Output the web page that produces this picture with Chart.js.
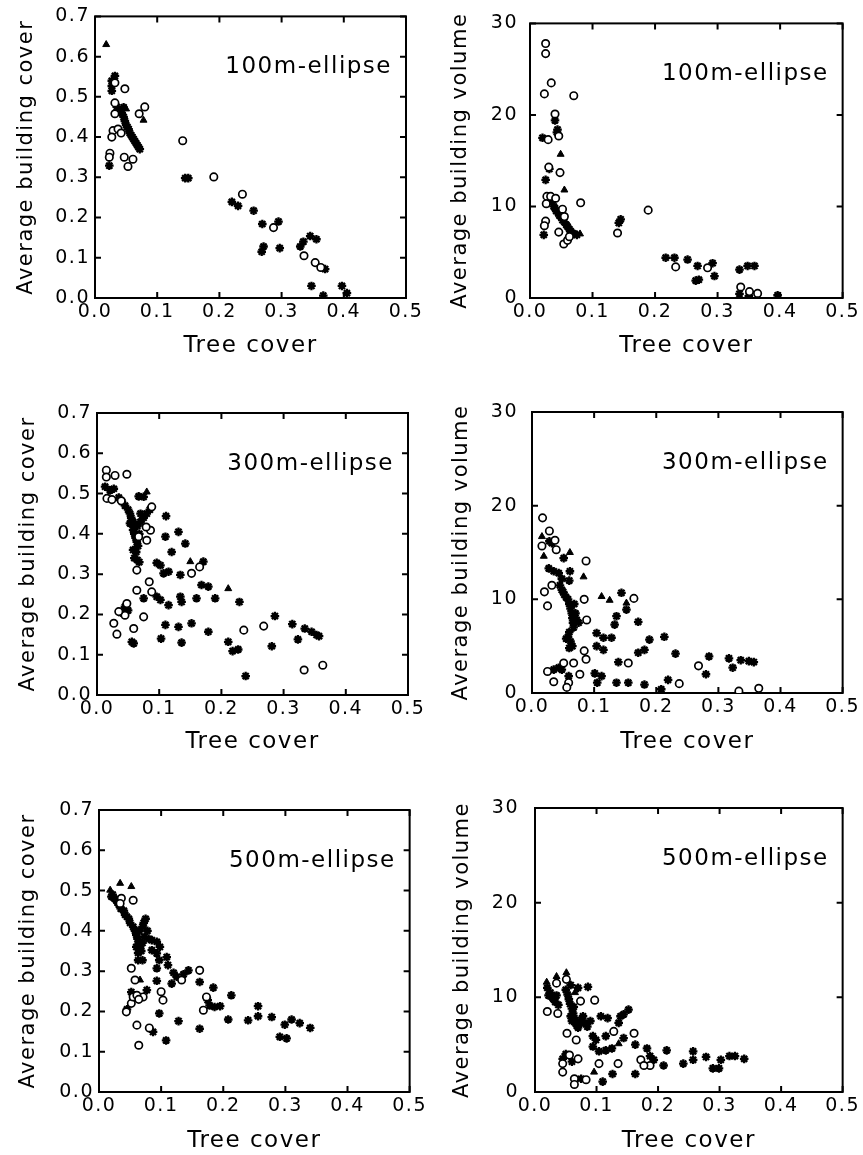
<!DOCTYPE html>
<html>
<head>
    <title>Tree cover vs building cover / volume</title>
    <script src="https://cdn.jsdelivr.net/npm/chart.js"></script>
    <style>
        body { margin: 0; background: #fff; }
        #wrap { position: relative; width: 863px; height: 1155px; }
        canvas { position: absolute; }
    </style>
</head>
<body>
<div id="wrap">
    <canvas id="c1"></canvas>
    <canvas id="c2"></canvas>
    <canvas id="c3"></canvas>
    <canvas id="c4"></canvas>
    <canvas id="c5"></canvas>
    <canvas id="c6"></canvas>
</div>

<script>
    // tick values
    var treeTicks = [0, 0.1, 0.2, 0.3, 0.4, 0.5];
    var coverTicks = [0, 0.1, 0.2, 0.3, 0.4, 0.5, 0.6, 0.7];
    var volumeTicks = [0, 10, 20, 30];

    // [tree cover, value] pairs
    // 100m ellipse - building cover
    var cover100Open = [[0.141,0.391],[0.191,0.301],[0.237,0.258],[0.287,0.175],[0.336,0.105],[0.354,0.088],[0.363,0.076],
        [0.048,0.52],[0.032,0.485],[0.080,0.475],[0.071,0.458],[0.032,0.458],[0.029,0.416],[0.037,0.42],[0.027,0.40],
        [0.042,0.41],[0.047,0.35],[0.061,0.345],[0.053,0.327],[0.024,0.36],[0.023,0.35],[0.032,0.535]];
    var cover100Tri = [[0.018,0.630],[0.078,0.442],[0.050,0.47]];
    var cover100Star = [[0.023,0.329],[0.027,0.54],[0.032,0.552],[0.027,0.515],[0.027,0.527],[0.046,0.474],
        [0.035,0.475],[0.040,0.465],[0.043,0.46],[0.046,0.45],[0.048,0.44],[0.050,0.43],[0.052,0.425],[0.054,0.42],
        [0.056,0.41],[0.058,0.405],[0.060,0.40],[0.062,0.395],[0.064,0.39],[0.066,0.385],[0.068,0.38],[0.070,0.375],[0.072,0.37],
        [0.145,0.298],[0.150,0.298],[0.220,0.239],[0.230,0.229],[0.255,0.217],[0.269,0.184],[0.271,0.128],[0.268,0.115],
        [0.295,0.19],[0.297,0.124],[0.335,0.14],[0.346,0.154],[0.356,0.146],[0.348,0.03],[0.367,0.006],[0.397,0.03],
        [0.405,0.012],[0.370,0.072],[0.330,0.128]];

    // 100m ellipse - building volume
    var volume100Open = [[0.025,27.8],[0.025,26.7],[0.034,23.5],[0.023,22.3],[0.070,22.1],[0.040,20.1],[0.046,17.7],[0.029,17.3],
        [0.048,13.7],[0.030,14.3],[0.027,11.1],[0.033,11.1],[0.026,10.3],[0.081,10.4],[0.025,8.4],[0.023,7.9],[0.052,9.7],
        [0.046,7.2],[0.054,5.9],[0.060,6.3],[0.140,7.1],[0.189,9.6],[0.233,3.4],[0.284,3.3],[0.337,1.2],[0.351,0.7],
        [0.364,0.5],[0.055,8.9],[0.041,10.9],[0.063,6.7]];
    var volume100Tri = [[0.049,15.7],[0.055,11.8],[0.080,7.0]];
    var volume100Star = [[0.020,17.5],[0.040,19.4],[0.044,18.4],[0.043,18.1],[0.031,14.1],[0.025,12.9],
        [0.035,10.5],[0.038,10.0],[0.040,9.8],[0.042,9.5],[0.045,9.3],[0.047,9.0],[0.050,8.8],[0.052,8.5],[0.055,8.3],
        [0.058,8.0],[0.060,7.8],[0.063,7.5],[0.065,7.3],[0.068,7.1],[0.070,7.0],[0.075,6.9],[0.022,6.9],[0.145,8.6],
        [0.142,8.2],[0.217,4.4],[0.231,4.4],[0.252,4.2],[0.268,3.5],[0.265,1.9],[0.270,2.0],[0.295,2.4],[0.292,3.8],
        [0.335,3.1],[0.348,3.5],[0.359,3.5],[0.335,0.46],[0.396,0.3],[0.350,0.2]];

    // 300m ellipse - building cover
    var cover300Open = [[0.015,0.558],[0.015,0.541],[0.029,0.545],[0.048,0.548],[0.016,0.488],[0.024,0.485],[0.039,0.482],
        [0.027,0.178],[0.032,0.151],[0.048,0.227],[0.045,0.198],[0.035,0.207],[0.059,0.165],[0.064,0.26],[0.075,0.194],
        [0.084,0.281],[0.088,0.256],[0.064,0.31],[0.152,0.302],[0.165,0.318],[0.236,0.161],[0.268,0.171],[0.333,0.062],
        [0.363,0.074],[0.067,0.393],[0.086,0.409],[0.079,0.417],[0.080,0.384],[0.088,0.467]];
    var cover300Tri = [[0.211,0.264],[0.080,0.504],[0.072,0.44],[0.150,0.331]];
    var cover300Star = [[0.013,0.517],[0.021,0.508],[0.027,0.512],[0.035,0.49],[0.040,0.48],[0.045,0.47],[0.050,0.46],
        [0.053,0.45],[0.055,0.44],[0.058,0.43],[0.060,0.42],[0.053,0.426],[0.058,0.41],[0.060,0.40],[0.062,0.39],[0.064,0.38],
        [0.066,0.37],[0.065,0.42],[0.070,0.43],[0.075,0.44],[0.080,0.45],[0.068,0.40],[0.063,0.355],[0.058,0.36],[0.060,0.34],
        [0.065,0.335],[0.068,0.33],[0.067,0.493],[0.075,0.492],[0.111,0.444],[0.110,0.393],[0.120,0.355],[0.131,0.405],
        [0.142,0.376],[0.096,0.328],[0.102,0.322],[0.115,0.306],[0.107,0.302],[0.134,0.298],[0.171,0.331],[0.168,0.273],
        [0.179,0.269],[0.160,0.24],[0.190,0.24],[0.229,0.231],[0.102,0.236],[0.096,0.244],[0.115,0.223],[0.134,0.244],
        [0.136,0.231],[0.110,0.174],[0.131,0.169],[0.152,0.178],[0.179,0.157],[0.103,0.140],[0.136,0.130],[0.056,0.132],
        [0.059,0.128],[0.211,0.132],[0.218,0.109],[0.227,0.113],[0.239,0.047],[0.281,0.121],[0.286,0.196],[0.314,0.176],
        [0.323,0.138],[0.334,0.165],[0.345,0.157],[0.353,0.149],[0.357,0.146],[0.045,0.219],[0.039,0.204],[0.050,0.21],
        [0.075,0.24],[0.070,0.45],[0.085,0.46]];

    // 300m ellipse - building volume
    var volume300Open = [[0.017,18.7],[0.028,17.3],[0.016,15.7],[0.037,16.3],[0.039,15.3],[0.032,11.5],[0.020,10.8],[0.025,9.3],
        [0.087,14.1],[0.084,10.0],[0.164,10.1],[0.088,7.8],[0.084,4.5],[0.087,3.6],[0.067,3.2],[0.025,2.3],[0.035,1.2],
        [0.059,1.1],[0.056,0.6],[0.077,2.0],[0.155,3.2],[0.237,1.0],[0.268,2.9],[0.333,0.2],[0.365,0.5],[0.051,3.2]];
    var volume300Tri = [[0.061,15.0],[0.083,12.4],[0.152,9.6],[0.112,10.3],[0.125,9.9],[0.016,16.7],[0.019,14.6]];
    var volume300Star = [[0.032,16.0],[0.028,16.2],[0.051,14.4],[0.061,13.0],[0.027,13.3],[0.035,13.0],[0.043,12.8],
        [0.048,12.2],[0.045,11.5],[0.048,11.0],[0.050,10.8],[0.052,10.5],[0.055,10.2],[0.058,10.0],[0.060,9.5],[0.062,9.0],
        [0.064,8.5],[0.065,8.0],[0.066,7.5],[0.067,7.0],[0.060,6.5],[0.058,6.0],[0.062,5.5],[0.065,5.0],[0.070,8.5],
        [0.072,7.8],[0.075,7.5],[0.068,9.5],[0.055,5.8],[0.060,4.8],[0.144,10.7],[0.136,8.2],[0.152,8.9],[0.171,7.6],
        [0.133,7.3],[0.104,6.4],[0.115,5.9],[0.128,5.9],[0.104,5.0],[0.115,4.6],[0.171,4.3],[0.181,4.6],[0.189,5.7],
        [0.213,6.0],[0.231,4.2],[0.285,3.9],[0.280,2.0],[0.317,3.7],[0.323,2.7],[0.336,3.5],[0.349,3.4],[0.357,3.3],
        [0.139,3.3],[0.101,2.1],[0.112,1.8],[0.105,1.1],[0.136,1.1],[0.155,1.1],[0.181,0.9],[0.219,1.4],[0.208,0.4],
        [0.035,2.5],[0.043,2.7],[0.048,2.5],[0.059,1.8],[0.060,12.0]];

    // 500m ellipse - building cover
    var cover500Open = [[0.036,0.481],[0.034,0.468],[0.055,0.476],[0.044,0.199],[0.052,0.220],[0.055,0.236],[0.061,0.166],
        [0.064,0.116],[0.081,0.159],[0.058,0.278],[0.071,0.236],[0.100,0.249],[0.103,0.228],[0.168,0.203],[0.162,0.302],
        [0.173,0.236],[0.052,0.307],[0.133,0.278],[0.061,0.240],[0.064,0.23]];
    var cover500Tri = [[0.034,0.518],[0.052,0.51],[0.018,0.501],[0.066,0.278]];
    var cover500Star = [[0.020,0.485],[0.025,0.48],[0.028,0.475],[0.030,0.47],[0.032,0.465],[0.022,0.49],[0.035,0.455],
        [0.040,0.45],[0.042,0.44],[0.045,0.435],[0.048,0.43],[0.050,0.42],[0.055,0.41],[0.058,0.40],[0.060,0.39],[0.062,0.38],
        [0.064,0.37],[0.066,0.36],[0.068,0.35],[0.065,0.40],[0.070,0.41],[0.072,0.42],[0.075,0.43],[0.060,0.36],[0.063,0.345],
        [0.070,0.37],[0.073,0.385],[0.078,0.40],[0.080,0.38],[0.085,0.377],[0.093,0.373],[0.098,0.36],[0.085,0.352],
        [0.093,0.344],[0.097,0.327],[0.109,0.335],[0.063,0.327],[0.070,0.327],[0.111,0.315],[0.093,0.307],[0.120,0.296],
        [0.125,0.286],[0.144,0.302],[0.136,0.292],[0.117,0.269],[0.093,0.276],[0.162,0.273],[0.184,0.259],[0.178,0.215],
        [0.186,0.211],[0.195,0.213],[0.213,0.240],[0.097,0.195],[0.077,0.253],[0.128,0.176],[0.108,0.128],[0.162,0.157],
        [0.087,0.149],[0.208,0.18],[0.240,0.178],[0.256,0.188],[0.256,0.213],[0.278,0.186],[0.291,0.137],[0.302,0.133],
        [0.299,0.167],[0.310,0.18],[0.323,0.171],[0.340,0.159],[0.052,0.248],[0.175,0.228],[0.045,0.205]];

    // 500m ellipse - building volume
    var volume500Open = [[0.020,8.5],[0.037,8.3],[0.035,11.5],[0.051,11.9],[0.074,9.6],[0.097,9.7],[0.052,6.2],[0.067,5.5],
        [0.045,3.0],[0.045,2.1],[0.056,3.9],[0.064,1.4],[0.064,0.8],[0.083,1.3],[0.104,3.0],[0.135,3.0],[0.161,6.2],
        [0.172,3.4],[0.187,2.8],[0.177,2.8],[0.128,6.4],[0.070,3.5]];
    var volume500Tri = [[0.019,11.6],[0.035,12.2],[0.051,12.6],[0.065,10.5],[0.096,2.1],[0.136,5.1]];
    var volume500Star = [[0.020,11.0],[0.025,10.5],[0.028,10.0],[0.030,9.8],[0.035,10.2],[0.033,9.5],[0.038,9.2],[0.022,10.2],
        [0.050,10.8],[0.053,10.3],[0.055,9.8],[0.057,9.3],[0.060,8.8],[0.062,8.3],[0.064,7.8],[0.066,7.3],[0.068,7.0],
        [0.070,6.8],[0.072,7.2],[0.075,7.6],[0.078,8.0],[0.060,7.5],[0.058,8.0],[0.070,11.0],[0.080,7.3],[0.085,6.9],
        [0.090,7.5],[0.058,11.3],[0.063,9.0],[0.086,11.1],[0.107,8.0],[0.118,7.8],[0.115,5.9],[0.094,5.9],[0.136,7.3],
        [0.152,8.7],[0.144,8.2],[0.139,8.0],[0.094,4.8],[0.104,4.3],[0.115,4.4],[0.125,4.6],[0.144,5.7],[0.110,1.1],
        [0.163,5.0],[0.163,1.9],[0.182,4.6],[0.187,3.8],[0.193,3.4],[0.209,2.8],[0.214,4.4],[0.241,3.0],[0.257,4.3],
        [0.257,3.4],[0.278,3.7],[0.289,2.5],[0.299,2.5],[0.302,3.4],[0.316,3.8],[0.325,3.8],[0.340,3.5],[0.126,1.9],
        [0.075,1.4],[0.099,5.5],[0.045,3.5],[0.050,4.0],[0.060,3.2]];

    var FONT = '"DejaVu Sans", sans-serif';

    // canvas box [left, top, w, h] and plot area [left, top, right, bottom] in page pixels
    var panels = [
        {id: 'c1', box: [0, 0, 430, 360], plot: [95, 15, 406, 298], yTicks: coverTicks, yTitle: 'Average building cover',
         yTitlePad: 14, tickPad: 5, label: '100m-ellipse', open: cover100Open, tri: cover100Tri, star: cover100Star},
        {id: 'c2', box: [430, 0, 433, 360], plot: [530, 15, 843, 298], yTicks: volumeTicks, yTitle: 'Average building volume',
         yTitlePad: 18, tickPad: 12, label: '100m-ellipse', open: volume100Open, tri: volume100Tri, star: volume100Star},
        {id: 'c3', box: [0, 380, 430, 376], plot: [97, 413, 408, 695], yTicks: coverTicks, yTitle: 'Average building cover',
         yTitlePad: 16, tickPad: 5, label: '300m-ellipse', open: cover300Open, tri: cover300Tri, star: cover300Star},
        {id: 'c4', box: [430, 380, 433, 376], plot: [532, 412, 844, 693], yTicks: volumeTicks, yTitle: 'Average building volume',
         yTitlePad: 19, tickPad: 14, label: '300m-ellipse', open: volume300Open, tri: volume300Tri, star: volume300Star},
        {id: 'c5', box: [0, 775, 430, 380], plot: [99, 810, 410, 1092], yTicks: coverTicks, yTitle: 'Average building cover',
         yTitlePad: 16, tickPad: 5, label: '500m-ellipse', open: cover500Open, tri: cover500Tri, star: cover500Star},
        {id: 'c6', box: [430, 775, 433, 380], plot: [535, 808, 847, 1092], yTicks: volumeTicks, yTitle: 'Average building volume',
         yTitlePad: 20, tickPad: 16, label: '500m-ellipse', open: volume500Open, tri: volume500Tri, star: volume500Star}
    ];

    function toXY(arr) {
        return arr.map(function (d) { return {x: d[0], y: d[1]}; });
    }

    // frame, inward tick marks on all four sides, and the panel label
    var framePlugin = {
        id: 'frame',
        beforeDatasetsDraw: function (chart, args, opts) {
            var a = chart.chartArea, ctx = chart.ctx;
            var xs = chart.scales.x, ys = chart.scales.y;
            ctx.save();
            ctx.strokeStyle = '#000';
            ctx.lineWidth = 2;
            ctx.strokeRect(a.left, a.top, a.right - a.left, a.bottom - a.top);
            ctx.beginPath();
            xs.ticks.forEach(function (t) {
                var px = xs.getPixelForValue(t.value);
                ctx.moveTo(px, a.bottom); ctx.lineTo(px, a.bottom - 6);
                ctx.moveTo(px, a.top); ctx.lineTo(px, a.top + 6);
            });
            ys.ticks.forEach(function (t) {
                var py = ys.getPixelForValue(t.value);
                ctx.moveTo(a.left, py); ctx.lineTo(a.left + 6, py);
                ctx.moveTo(a.right, py); ctx.lineTo(a.right - 6, py);
            });
            ctx.stroke();
            ctx.font = '23px ' + FONT;
            ctx.fillStyle = '#000';
            ctx.textAlign = 'right';
            ctx.textBaseline = 'alphabetic';
            ctx.fillText(opts.label, a.right - 14, a.top + 57);
            ctx.restore();
        }
    };

    // the original type is widely spaced
    var spacingPlugin = {
        id: 'spacing',
        beforeUpdate: function (chart) { chart.ctx.letterSpacing = '1.5px'; },
        beforeDraw: function (chart) { chart.ctx.letterSpacing = '1.5px'; }
    };

    panels.forEach(function (p) {
        var cv = document.getElementById(p.id);
        cv.style.left = p.box[0] + 'px';
        cv.style.top = p.box[1] + 'px';
        cv.width = p.box[2];
        cv.height = p.box[3];
        var yWidth = p.plot[0] - p.box[0];
        var xHeight = p.box[1] + p.box[3] - p.plot[3];
        var yMax = p.yTicks[p.yTicks.length - 1];
        var yStep = p.yTicks[1] - p.yTicks[0];
        var isCover = yMax < 1;

        new Chart(cv.getContext('2d'), {
            type: 'scatter',
            data: {
                datasets: [{
                    data: toXY(p.open), pointStyle: 'circle', pointRadius: 3.7,
                    backgroundColor: '#fff', borderColor: '#000', borderWidth: 1.7
                }, {
                    data: toXY(p.tri), pointStyle: 'triangle', pointRadius: 4,
                    backgroundColor: '#000', borderColor: '#000', borderWidth: 1
                }, {
                    data: toXY(p.star), pointStyle: 'star', pointRadius: 4.3,
                    backgroundColor: '#000', borderColor: '#000', borderWidth: 2.3
                }]
            },
            options: {
                responsive: false,
                animation: false,
                devicePixelRatio: 1,
                layout: {padding: {top: p.plot[1] - p.box[1], right: p.box[0] + p.box[2] - p.plot[2], left: 0, bottom: 0}},
                plugins: {legend: {display: false}, tooltip: {enabled: false}, frame: {label: p.label}},
                scales: {
                    x: {
                        type: 'linear', min: treeTicks[0], max: treeTicks[treeTicks.length - 1],
                        grid: {display: false, drawTicks: false}, border: {display: false},
                        ticks: {
                            stepSize: treeTicks[1] - treeTicks[0], maxRotation: 0, autoSkip: false, padding: 3,
                            color: '#000', font: {family: FONT, size: 19},
                            callback: function (v) { return v.toFixed(1); }
                        },
                        title: {display: true, text: 'Tree cover', color: '#000', font: {family: FONT, size: 23}, padding: {top: 0, bottom: 0}},
                        afterFit: function (s) { s.height = xHeight; }
                    },
                    y: {
                        type: 'linear', min: 0, max: yMax,
                        grid: {display: false, drawTicks: false}, border: {display: false},
                        ticks: {
                            stepSize: yStep, padding: p.tickPad, color: '#000', font: {family: FONT, size: 19},
                            callback: function (v) { return isCover ? v.toFixed(1) : String(v); }
                        },
                        title: {display: true, text: p.yTitle, color: '#000', font: {family: FONT, size: 21}, padding: {top: p.yTitlePad, bottom: 0}},
                        afterFit: function (s) { s.width = yWidth; }
                    }
                }
            },
            plugins: [framePlugin, spacingPlugin]
        });
    });
</script>
</body>
</html>
